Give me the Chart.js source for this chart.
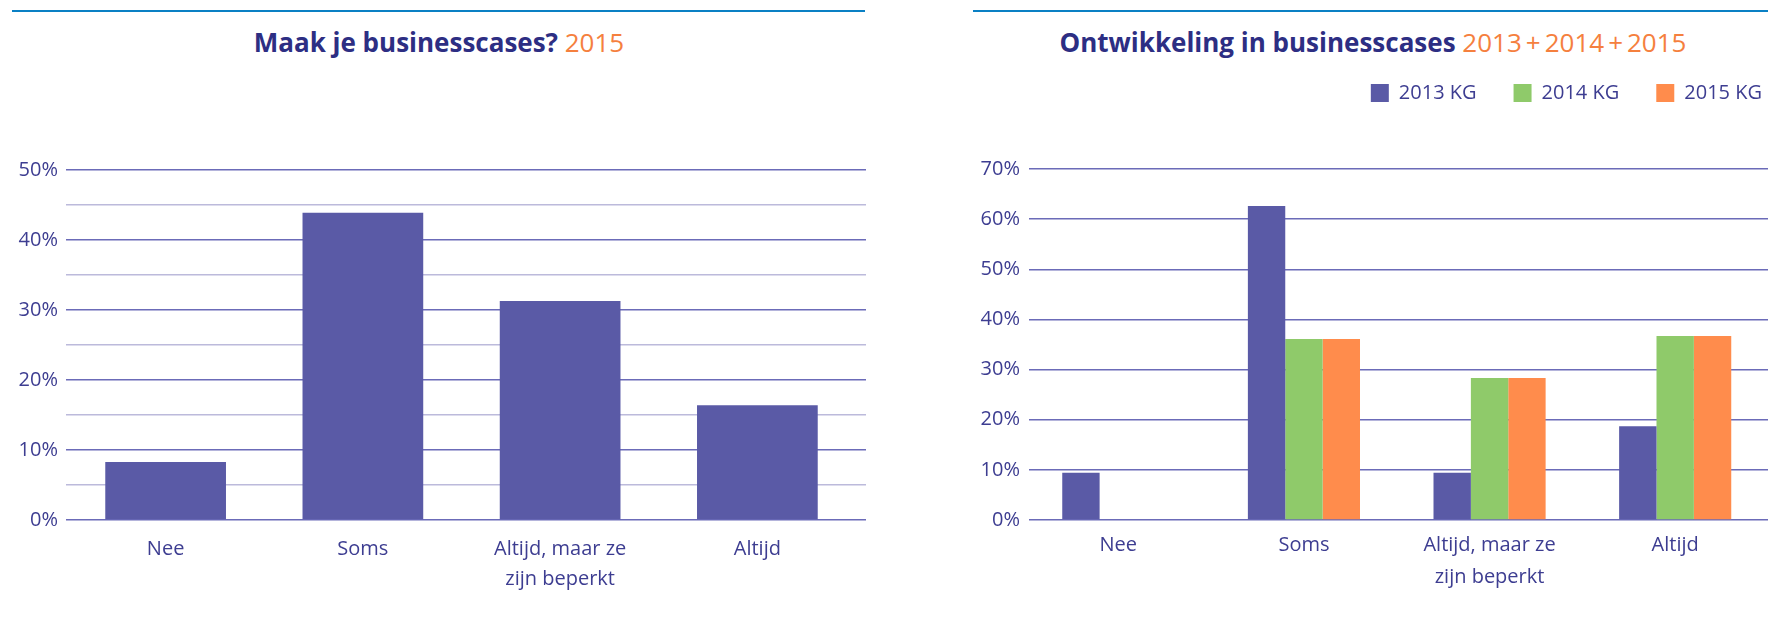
<!DOCTYPE html>
<html><head><meta charset="utf-8">
<script src="https://cdn.jsdelivr.net/npm/chart.js@4"></script>
<style>
html,body{margin:0;padding:0;background:#fff;overflow:hidden;width:1768px;height:644px;}
.rule{position:absolute;height:2px;background:#0a80c4;top:10px;}
.title{position:absolute;top:29px;font-family:'Open Sans',sans-serif;font-weight:700;font-size:26px;line-height:1;color:#2d2e83;white-space:nowrap;transform:translateX(-50%);}
.title .yr{color:#f5803e;font-weight:400;}
.title .pl{margin:0 4px;}
canvas{position:absolute;top:0;}
</style></head>
<body>
<div class="rule" style="left:12px;width:853px"></div>
<div class="rule" style="left:973px;width:795px"></div>
<div class="title" style="left:439px">Maak je businesscases? <span class="yr">2015</span></div>
<div class="title" style="left:1373px">Ontwikkeling in businesscases <span class="yr">2013<span class="pl">+</span>2014<span class="pl">+</span>2015</span></div>
<canvas id="c1" width="884" height="644" style="left:0"></canvas>
<canvas id="c2" width="884" height="644" style="left:884px"></canvas>
<script>
// ---- data ----
const categories = [['Nee'], ['Soms'], ['Altijd, maar ze', 'zijn beperkt'], ['Altijd']];
const values2015 = [8.3, 43.9, 31.3, 16.4];
const seriesNames = ['2013 KG', '2014 KG', '2015 KG'];
const series2013 = [9.4, 62.6, 9.4, 18.7];
const series2014 = [0, 36.1, 28.3, 36.7];
const series2015 = [0, 36.1, 28.3, 36.7];
const leftGridValues = [0, 5, 10, 15, 20, 25, 30, 35, 40, 45, 50];
const leftLabelValues = [0, 10, 20, 30, 40, 50];
const rightGridValues = [0, 10, 20, 30, 40, 50, 60, 70];

// ---- style ----
const BLUE = '#5a5aa6', GREEN = '#8fca6a', ORANGE = '#ff8c4c';
const TEXT = '#3d3d91';
const GRID_MAJOR = '#6b6bb8', GRID_MINOR = '#bcbadb';
const FONT = "'Open Sans', sans-serif";

// shifts the legend box after layout
const legendShift = {
  id: 'legendShift',
  afterLayout(chart, args, opts) {
    const l = chart.legend;
    if (!l) return;
    l.left += opts.dx; l.right += opts.dx;
    l.top += opts.dy; l.bottom += opts.dy;
  }
};
// lets the category range differ slightly from the gridline extent
const xRange = {
  id: 'xRange',
  afterLayout(chart, args, opts) {
    const x = chart.scales.x;
    x._startPixel += opts.start || 0;
    x._endPixel += opts.end || 0;
    x._length = x._endPixel - x._startPixel;
  }
};

new Chart(document.getElementById('c1'), {
  type: 'bar',
  data: {
    labels: categories,
    datasets: [{ label: '2015', data: values2015, backgroundColor: BLUE, borderWidth: 0,
      categoryPercentage: 0.612, barPercentage: 1 }]
  },
  plugins: [xRange],
  options: {
    responsive: false, animation: false,
    layout: { padding: { top: 170, right: 18, left: 0, bottom: 0 } },
    plugins: { legend: { display: false }, tooltip: { enabled: false }, xRange: { start: 1, end: -10 } },
    scales: {
      x: {
        grid: { display: false, drawTicks: false }, border: { display: false },
        ticks: { color: TEXT, font: { family: FONT, size: 20, lineHeight: 1.5 }, padding: 14, maxRotation: 0, autoSkip: false },
        afterFit: s => { s.height = 124; }
      },
      y: {
        min: 0, max: 50,
        afterBuildTicks: s => { s.ticks = leftGridValues.map(v => ({ value: v })); },
        ticks: { color: TEXT, font: { family: FONT, size: 20 }, padding: 8,
          callback: v => leftLabelValues.includes(v) ? v + '%' : '' },
        grid: { drawTicks: false, lineWidth: 1.5,
          color: c => (c.tick && leftLabelValues.includes(c.tick.value)) ? GRID_MAJOR : GRID_MINOR },
        border: { display: false },
        afterFit: s => { s.width = 66; }
      }
    }
  }
});

new Chart(document.getElementById('c2'), {
  type: 'bar',
  data: {
    labels: categories,
    datasets: [
      { label: seriesNames[0], data: series2013, backgroundColor: BLUE, borderWidth: 0, categoryPercentage: 0.604, barPercentage: 1 },
      { label: seriesNames[1], data: series2014, backgroundColor: GREEN, borderWidth: 0, categoryPercentage: 0.604, barPercentage: 1 },
      { label: seriesNames[2], data: series2015, backgroundColor: ORANGE, borderWidth: 0, categoryPercentage: 0.604, barPercentage: 1 }
    ]
  },
  plugins: [legendShift, xRange],
  options: {
    responsive: false, animation: false,
    layout: { padding: { top: 102, right: 0, left: 0, bottom: 0 } },
    plugins: {
      tooltip: { enabled: false },
      legendShift: { dx: 31, dy: -56 },
      xRange: { start: -3.5, end: 0 },
      legend: {
        position: 'top', align: 'end',
        labels: { boxWidth: 18, boxHeight: 18, padding: 37, color: TEXT, font: { family: FONT, size: 20 } }
      }
    },
    scales: {
      x: {
        grid: { display: false, drawTicks: false }, border: { display: false },
        ticks: { color: TEXT, font: { family: FONT, size: 20, lineHeight: 1.6 }, padding: 9, maxRotation: 0, autoSkip: false },
        afterFit: s => { s.height = 124; }
      },
      y: {
        min: 0, max: 70,
        afterBuildTicks: s => { s.ticks = rightGridValues.map(v => ({ value: v })); },
        ticks: { color: TEXT, font: { family: FONT, size: 20 }, padding: 9, callback: v => v + '%' },
        grid: { drawTicks: false, lineWidth: 1.5, color: GRID_MAJOR },
        border: { display: false },
        afterFit: s => { s.width = 145; }
      }
    }
  }
});
</script>
</body></html>
